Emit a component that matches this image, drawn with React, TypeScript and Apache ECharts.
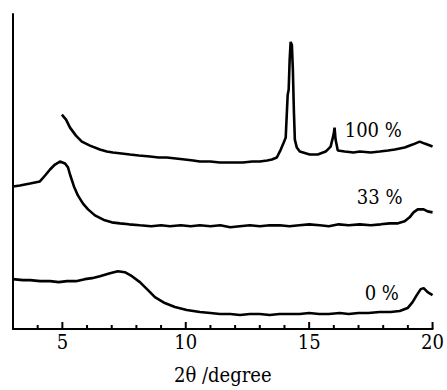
import React, { useEffect, useRef } from "react";
import * as echarts from "echarts";

// 2θ values and intensities (arbitrary units) for each sample
const x100 = [4.98, 5.15, 5.31, 5.55, 5.79, 6.12, 6.52, 6.8, 7.05, 7.4, 7.74, 8.1, 8.55, 8.9, 9.23, 9.6, 9.96, 10.3, 10.57, 11.0, 11.38, 11.8, 12.31, 12.7, 13.0, 13.3, 13.49, 13.69, 13.85, 13.97, 14.05, 14.13, 14.17, 14.21, 14.25, 14.3, 14.34, 14.38, 14.42, 14.5, 14.62, 15.02, 15.35, 15.67, 15.87, 15.99, 16.03, 16.07, 16.16, 16.44, 16.8, 17.05, 17.5, 17.86, 18.2, 18.47, 18.87, 19.19, 19.48, 19.68, 20.0];
const y100 = [215, 210, 202, 194, 188, 184, 180, 178, 177, 176, 175, 174, 173, 172, 172, 171, 170, 169, 168, 168, 167, 167, 167, 168, 168, 169, 170, 172, 180, 187, 192, 235, 240, 270, 288, 285, 260, 220, 190, 182, 178, 175, 175, 178, 183, 195, 202, 190, 179, 178, 177, 178, 177, 178, 179, 180, 182, 185, 188, 186, 183];

const x33 = [3.0, 3.28, 3.69, 4.09, 4.3, 4.5, 4.7, 4.9, 5.11, 5.23, 5.31, 5.47, 5.63, 5.83, 6.04, 6.32, 6.72, 7.0, 7.33, 7.7, 8.14, 8.6, 9.0, 9.36, 9.8, 10.2, 10.57, 11.0, 11.4, 11.8, 12.19, 12.6, 13.0, 13.4, 13.81, 14.2, 14.6, 15.0, 15.43, 15.8, 16.2, 16.6, 17.05, 17.5, 17.9, 18.26, 18.6, 18.87, 19.07, 19.23, 19.4, 19.64, 19.8, 20.0];
const y33 = [143, 144, 146, 148, 154, 160, 165, 168, 166, 162, 155, 143, 134, 126, 120, 114, 109, 107, 106, 105, 104, 103, 104, 103, 104, 103, 104, 103, 104, 102, 103, 104, 103, 104, 104, 103, 104, 105, 104, 103, 105, 104, 105, 104, 105, 106, 106, 108, 112, 117, 120, 120, 118, 117];

const x0 = [3.0, 3.4, 3.69, 4.1, 4.5, 4.85, 5.19, 5.55, 5.91, 6.2, 6.52, 6.93, 7.25, 7.53, 7.82, 8.14, 8.47, 8.75, 9.15, 9.56, 10.04, 10.57, 11.0, 11.38, 11.8, 12.2, 12.6, 13.0, 13.4, 13.8, 14.2, 14.62, 15.0, 15.4, 15.8, 16.24, 16.6, 17.0, 17.4, 17.86, 18.3, 18.67, 18.99, 19.19, 19.36, 19.52, 19.64, 19.8, 20.0];
const y0 = [50, 49, 49, 48, 48, 47, 48, 48, 50, 51, 53, 56, 58, 57, 53, 47, 39, 32, 26, 22, 19, 17, 16, 15, 15, 14, 15, 15, 14, 15, 15, 15, 16, 15, 15, 16, 15, 16, 16, 17, 17, 18, 21, 27, 34, 40, 41, 37, 34];

const seriesNames = ["100 %", "33 %", "0 %"];
const labelPos: [number, number][] = [[16.44, 200], [16.93, 132], [17.25, 36]];

const majorTicks = [5, 10, 15, 20];
const minorTicks = [4, 6, 7, 8, 9, 11, 12, 13, 14, 16, 17, 18, 19];

const FONT = "DejaVu Serif Condensed";

function pairs(xs: number[], ys: number[]) {
  return xs.map((x, i) => [x, ys[i]]);
}

function tickSeries(values: number[], len: number) {
  return {
    type: "custom",
    silent: true,
    clip: false,
    z: 10,
    data: values.map((v) => [v, 0]),
    encode: { x: 0, y: 1 },
    renderItem: (_params: any, api: any) => {
      const p = api.coord([api.value(0), 0]);
      return {
        type: "rect",
        shape: { x: p[0] - 1, y: p[1] - len, width: 2, height: len },
        style: { fill: "#000" },
      };
    },
  };
}

export default function App() {
  const ref = useRef<HTMLDivElement>(null);
  useEffect(() => {
    document.body.style.margin = "0";
    const chart = echarts.init(ref.current!, undefined, { renderer: "svg" });
    const datasets = [pairs(x100, y100), pairs(x33, y33), pairs(x0, y0)];
    chart.setOption({
      animation: false,
      backgroundColor: "#fff",
      grid: { left: 13, right: 14, top: 14, bottom: 60 },
      xAxis: {
        type: "value",
        min: 3,
        max: 20,
        interval: 1,
        name: "2θ /degree",
        nameLocation: "middle",
        nameGap: 36,
        nameTextStyle: { fontFamily: FONT, fontSize: 20, color: "#000" },
        axisLine: { show: true, onZero: false, lineStyle: { color: "#000", width: 2 } },
        axisTick: { show: false },
        axisLabel: {
          show: true,
          margin: 3,
          fontFamily: FONT,
          fontSize: 20,
          color: "#000",
          formatter: (v: number) => (majorTicks.includes(v) ? String(v) : ""),
        },
        splitLine: { show: false },
      },
      yAxis: {
        type: "value",
        min: 0,
        max: 316,
        axisLine: { show: true, onZero: false, lineStyle: { color: "#000", width: 2 } },
        axisTick: { show: false },
        axisLabel: { show: false },
        splitLine: { show: false },
      },
      series: [
        ...datasets.map((d, i) => ({
          type: "line",
          name: seriesNames[i],
          data: d,
          showSymbol: false,
          symbol: "none",
          lineStyle: { color: "#000", width: 2.6 },
          markPoint: {
            symbol: "circle",
            symbolSize: 0,
            data: [
              {
                coord: labelPos[i],
                label: {
                  show: true,
                  position: "right",
                  distance: 0,
                  formatter: seriesNames[i],
                  fontFamily: FONT,
                  fontSize: 20,
                  color: "#000",
                },
              },
            ],
          },
        })),
        tickSeries(minorTicks, 4),
        tickSeries(majorTicks, 7),
      ],
    });
    return () => chart.dispose();
  }, []);
  return <div ref={ref} style={{ position: "absolute", left: 0, top: 0, width: 447, height: 390 }} />;
}
